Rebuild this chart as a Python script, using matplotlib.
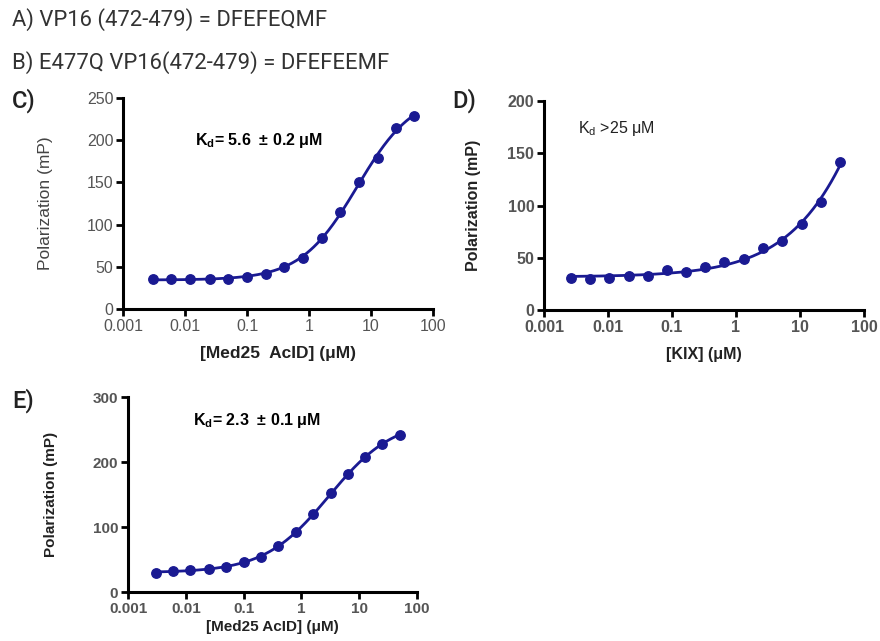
import numpy as np
import matplotlib
matplotlib.use('Agg')
import matplotlib.pyplot as plt
from matplotlib.ticker import FixedLocator, FixedFormatter, NullLocator

plt.rcParams['font.family'] = ['Liberation Sans', 'DejaVu Sans']
plt.rcParams['mathtext.fontset'] = 'custom'
plt.rcParams['mathtext.rm'] = 'Liberation Sans'
plt.rcParams['mathtext.bf'] = 'Liberation Sans:bold'
plt.rcParams['mathtext.it'] = 'Liberation Sans:italic'

# panel C: VP16 wt vs Med25 AcID
conc_c = [0.003, 0.006, 0.012, 0.025, 0.05, 0.1, 0.2, 0.4, 0.8, 1.6, 3.2, 6.4, 12.8, 25, 50]
pol_c = [36, 35, 36, 35, 36, 38, 42, 50, 61, 84, 115, 150, 179, 214, 229]

# panel D: VP16 wt vs KIX
conc_d = [0.0026, 0.0052, 0.0104, 0.021, 0.042, 0.083, 0.166, 0.33, 0.66, 1.33, 2.66, 5.3, 10.6, 21.3, 42.6]
pol_d = [31, 30, 31, 33, 33, 38, 36, 41, 46, 49, 59, 66, 82, 103, 142]

# panel E: E477Q vs Med25 AcID
conc_e = [0.003, 0.006, 0.012, 0.025, 0.05, 0.1, 0.2, 0.4, 0.8, 1.6, 3.2, 6.4, 12.8, 25, 50]
pol_e = [30, 32, 34, 36, 38, 46, 54, 71, 92, 120, 153, 181, 207, 228, 242]

xticks = [0.001, 0.01, 0.1, 1, 10, 100]
xtick_labels = ['0.001', '0.01', '0.1', '1', '10', '100']

blue = '#1a1a92'
tickgrey = '#555555'


def fit_curve(x, y, xs):
    # crude least-squares dose-response fit: grid over K and n, linear in bottom/top
    x = np.asarray(x, float)
    y = np.asarray(y, float)
    best = None
    for lk in np.linspace(-1, 3, 201):
        for n in np.linspace(0.5, 2.0, 61):
            f = 1.0 / (1.0 + (10**lk / x)**n)
            A = np.vstack([np.ones_like(f), f]).T
            coef, res, _, _ = np.linalg.lstsq(A, y, rcond=None)
            err = np.sum((A @ coef - y)**2)
            if best is None or err < best[0]:
                best = (err, lk, n, coef)
    _, lk, n, coef = best
    return coef[0] + coef[1] / (1.0 + (10**lk / xs)**n)


def panel(ax, x, y, ymax, ystep, xlabel, bold_ticks, ylab_bold, fs_tick, fs_lab, ypad, xpad):
    xs = np.logspace(np.log10(min(x)), np.log10(max(x)), 300)
    ax.plot(xs, fit_curve(x, y, xs), color=blue, lw=2.0, zorder=2)
    ax.plot(x, y, 'o', color=blue, ms=6.8, zorder=3)
    ax.set_xscale('log')
    ax.set_xlim(0.001, 100)
    ax.set_ylim(0, ymax)
    ax.xaxis.set_major_locator(FixedLocator(xticks))
    ax.xaxis.set_major_formatter(FixedFormatter(xtick_labels))
    ax.xaxis.set_minor_locator(NullLocator())
    ax.set_yticks(np.arange(0, ymax + 1, ystep))
    for s in ['top', 'right']:
        ax.spines[s].set_visible(False)
    for s in ['left', 'bottom']:
        ax.spines[s].set_linewidth(2.2)
        ax.spines[s].set_color('black')
    ax.tick_params(width=2.0, length=5, color='black', labelsize=fs_tick,
                   labelcolor=tickgrey, pad=2)
    w = 'bold' if bold_ticks else 'normal'
    for t in ax.get_xticklabels() + ax.get_yticklabels():
        t.set_fontweight(w)
    ax.set_xlabel(xlabel, fontsize=fs_lab, fontweight='bold', color='#222222', labelpad=xpad)
    ax.set_ylabel('Polarization (mP)', fontsize=fs_lab,
                  fontweight='bold' if ylab_bold else 'normal',
                  color='#222222' if ylab_bold else '#444444', labelpad=ypad)


fig = plt.figure(figsize=(8.8, 6.41), dpi=100)

ax_c = fig.add_axes([0.1398, 0.5179, 0.3523, 0.3292])
ax_d = fig.add_axes([0.6182, 0.5164, 0.3636, 0.326])
ax_e = fig.add_axes([0.1455, 0.0764, 0.3284, 0.3042])

panel(ax_c, conc_c, pol_c, 250, 50, '[Med25  AcID] (\u03bcM)', False, False, 11.5, 12.5, 24, 9)
panel(ax_d, conc_d, pol_d, 200, 50, '[KIX] (\u03bcM)', True, True, 11.5, 11.5, 19, 9)
panel(ax_e, conc_e, pol_e, 300, 100, '[Med25 AcID] (\u03bcM)', True, True, 11, 11, 25, 3)

ax_c.text(0.232, 0.80, r'$\mathbf{K_d}$= 5.6  ' + '\u00b1 0.2 \u03bcM',
          transform=ax_c.transAxes, fontsize=11.5, fontweight='bold', va='center')
ax_d.text(0.106, 0.87, r'K$_\mathrm{d}$ >25 ' + '\u03bcM',
          transform=ax_d.transAxes, fontsize=11.5, va='center', color='#222222')
ax_e.text(0.225, 0.88, r'$\mathbf{K_d}$= 2.3  ' + '\u00b1 0.1 \u03bcM',
          transform=ax_e.transAxes, fontsize=11.5, fontweight='bold', va='center')

roboto = ['Roboto', 'DejaVu Sans']
hdr = dict(fontsize=15.8, color='#333333', family=roboto, va='center')
fig.text(12 / 880, 1 - 20 / 641, 'A) VP16 (472-479) = DFEFEQMF', **hdr)
fig.text(12 / 880, 1 - 63 / 641, 'B) E477Q VP16(472-479) = DFEFEEMF', **hdr)
lbl = dict(fontsize=17, color='#222222', family=roboto, weight='medium', va='center')
fig.text(12 / 880, 1 - 101 / 641, 'C)', **lbl)
fig.text(452 / 880, 1 - 101 / 641, 'D)', **lbl)
fig.text(12 / 880, 1 - 401 / 641, 'E)', **lbl)

fig.savefig('out.png', dpi=100, facecolor='white')
